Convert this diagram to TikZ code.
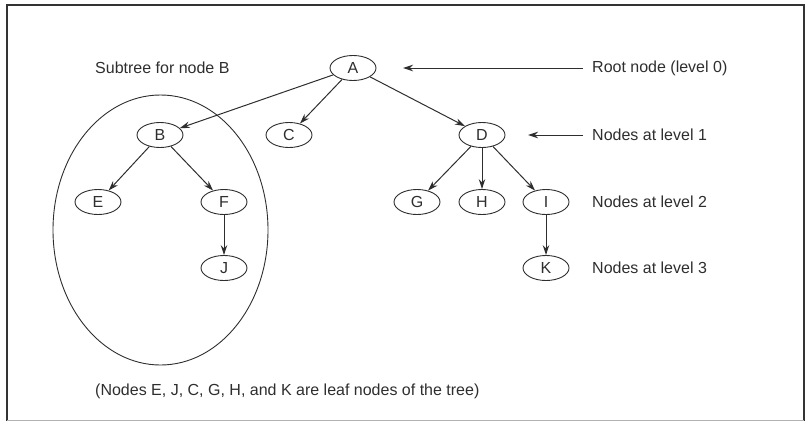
\documentclass[tikz,border=0pt]{standalone}
\usepackage{fontspec}
\setmainfont{Liberation Sans}
\usetikzlibrary{shapes.geometric,arrows.meta}
\definecolor{ink}{HTML}{2E2E2E}
\tikzset{
  tn/.style={draw=ink, line width=0.9pt, ellipse, minimum width=46pt, minimum height=25pt, inner sep=0pt, text=ink, font=\fontsize{16}{19}\selectfont},
  lbl/.style={anchor=west, inner sep=0pt, text=ink, font=\fontsize{16}{19}\selectfont},
  arr/.style={draw=ink, line width=1pt, -{Stealth[length=10pt,width=6.5pt]}},
}
\begin{document}
\begin{tikzpicture}[x=1pt,y=-1pt]
\useasboundingbox (0,0) rectangle (806,421);
% frame
\draw[line width=1.6pt, black!80] (7,421) -- (7,5) -- (804,5) -- (804,421);
\draw[line width=1pt, black!30] (7,420) -- (804,420);
% subtree ellipse
\node[draw=ink, line width=0.9pt, ellipse, minimum width=215pt, minimum height=270pt, inner sep=0pt] (sub) at (160.5,230) {};
% tree nodes
\node[tn] (A) at (353,68) {A};
\node[tn] (B) at (160,135) {B};
\node[tn] (C) at (289,135) {C};
\node[tn] (D) at (482,135) {D};
\node[tn] (E) at (98,202) {E};
\node[tn] (F) at (224,202) {F};
\node[tn] (G) at (417,202) {G};
\node[tn] (H) at (482,202) {H};
\node[tn] (I) at (546,202) {I};
\node[tn] (J) at (224,268) {J};
\node[tn] (K) at (546,268) {K};
% edges
\draw[arr] (A) -- (B);
\draw[arr] (A) -- (C);
\draw[arr] (A) -- (D);
\draw[arr] (B) -- (E);
\draw[arr] (B) -- (F);
\draw[arr] (F) -- (J);
\draw[arr] (D) -- (G);
\draw[arr] (D) -- (H);
\draw[arr] (D) -- (I);
\draw[arr] (I) -- (K);
% labels
\node[lbl] (subl) at (95,68) {Subtree for node B};
\node[lbl] (l0) at (592,68) {Root node (level 0)};
\node[lbl] (l1) at (592,135) {Nodes at level 1};
\node[lbl] (l2) at (592,202) {Nodes at level 2};
\node[lbl] (l3) at (592,268) {Nodes at level 3};
\node[lbl] (leaf) at (95,391) {(Nodes E, J, C, G, H, and K are leaf nodes of the tree)};
\coordinate (p0) at (403,68);
\coordinate (p1) at (528,135);
\draw[arr] ([xshift=-9pt]l0.west) -- (p0);
\draw[arr] ([xshift=-9pt]l1.west) -- (p1);
\end{tikzpicture}
\end{document}
